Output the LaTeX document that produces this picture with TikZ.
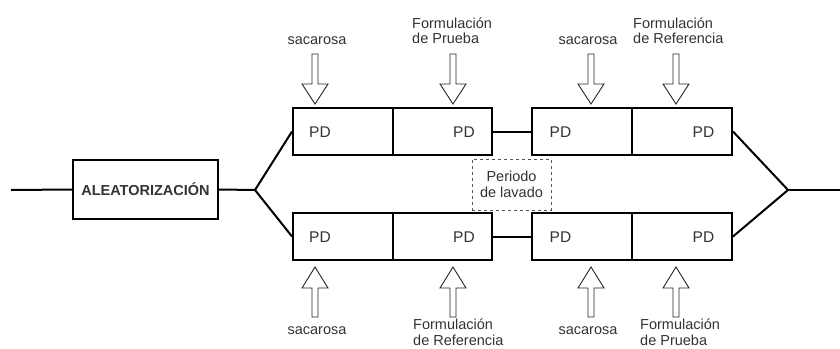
\documentclass[tikz,border=0pt]{standalone}
\usepackage{fontspec}
\setmainfont{Liberation Sans}
\definecolor{txt}{HTML}{333333}
\definecolor{dash}{HTML}{555555}
\begin{document}
\begin{tikzpicture}[x=1pt,y=-1pt,
  box/.style={draw=black,line width=2pt,minimum height=47pt,inner sep=0pt,fill=white},
  pd/.style={text=txt,font=\fontsize{15.5}{17}\selectfont,inner sep=0pt},
  lbl/.style={text=txt,font=\fontsize{14.5}{15.5}\selectfont,inner sep=0pt,align=left},
  conn/.style={line width=2pt,black},
  downarr/.pic={\draw[line width=0.9pt,draw=black!85,fill=white] (0,0) -- (-13,-20) -- (-3,-20) -- (-3,-50) -- (3,-50) -- (3,-20) -- (13,-20) -- cycle;},
  uparr/.pic={\draw[line width=0.9pt,draw=black!85,fill=white] (0,0) -- (-13,21) -- (-3,21) -- (-3,50) -- (3,50) -- (3,21) -- (13,21) -- cycle;}
]
\useasboundingbox (0,0) rectangle (840,348);

% main line and randomisation box
\coordinate (start) at (11,190);
\coordinate (split) at (255,190);
\coordinate (join) at (788,190);
\coordinate (stop) at (840,190);
\node[draw=black,line width=2pt,minimum width=145pt,minimum height=59pt,inner sep=0pt,
      font=\bfseries\fontsize{14.5}{16}\selectfont,text=txt] (ale) at (145.5,189.5) {ALEATORIZACIÓN};

% top row
\node[box,minimum width=100pt] (t1) at (343,131.5) {};
\node[box,minimum width=99pt] (t2) at (442.5,131.5) {};
\node[box,minimum width=100pt] (t3) at (582,131.5) {};
\node[box,minimum width=100pt] (t4) at (682,131.5) {};
% bottom row
\node[box,minimum width=100pt] (b1) at (343,236.5) {};
\node[box,minimum width=99pt] (b2) at (442.5,236.5) {};
\node[box,minimum width=100pt] (b3) at (582,236.5) {};
\node[box,minimum width=100pt] (b4) at (682,236.5) {};

% PD texts
\node[pd] (pt1) at (320,132) {PD};
\node[pd] (pt2) at (464,132) {PD};
\node[pd] (pt3) at (560.5,132) {PD};
\node[pd] (pt4) at (703.5,132) {PD};
\node[pd] (pb1) at (320,237) {PD};
\node[pd] (pb2) at (464,237) {PD};
\node[pd] (pb3) at (560.5,237) {PD};
\node[pd] (pb4) at (703.5,237) {PD};

% connectors
\draw[conn] (start) -- (ale.west);
\draw[conn] (ale.east) -- (split);
\draw[conn] (t1.west) -- (split) -- (b1.west);
\draw[conn] (t2.east) -- (t3.west);
\draw[conn] (b2.east) -- (b3.west);
\draw[conn] (t4.east) -- (join) -- (b4.east);
\draw[conn] (join) -- (stop);

% washout period
\node[draw=dash,dashed,line width=0.8pt,minimum width=79pt,minimum height=51pt,inner sep=0pt,
      text=txt,font=\fontsize{14.5}{15.5}\selectfont,align=center] (lav) at (511.5,184.5) {Periodo\\de lavado};

% arrows
\pic at (315,104) {downarr};
\pic at (453,104) {downarr};
\pic at (591,104) {downarr};
\pic at (676,104) {downarr};
\pic at (315,267) {uparr};
\pic at (453,267) {uparr};
\pic at (591,267) {uparr};
\pic at (676,267) {uparr};

% labels
\node[lbl] (l1) at (317,41) {sacarosa};
\node[lbl,anchor=west] (l2) at (412,30.5) {Formulación\\de Prueba};
\node[lbl] (l3) at (588,41) {sacarosa};
\node[lbl,anchor=west] (l4) at (633,30.5) {Formulación\\de Referencia};
\node[lbl] (l5) at (317,331) {sacarosa};
\node[lbl,anchor=west] (l6) at (413,332) {Formulación\\de Referencia};
\node[lbl] (l7) at (588,331) {sacarosa};
\node[lbl,anchor=west] (l8) at (640,332) {Formulación\\de Prueba};
\end{tikzpicture}
\end{document}
